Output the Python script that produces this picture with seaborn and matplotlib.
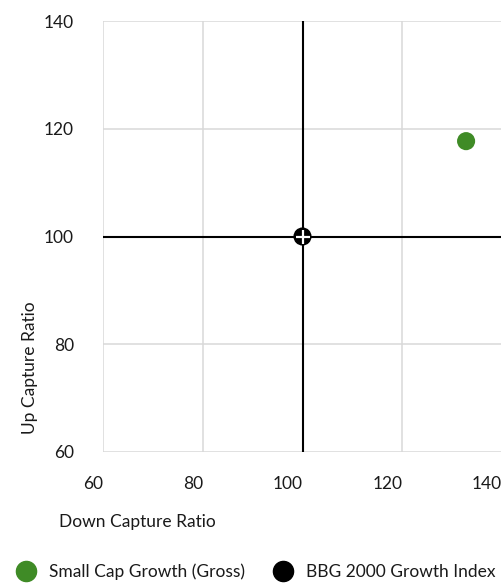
import matplotlib
matplotlib.use("Agg")
import matplotlib.pyplot as plt
from matplotlib.lines import Line2D
import pandas as pd
import seaborn as sns

# values
names = ["Small Cap Growth (Gross)", "BBG 2000 Growth Index"]
down_capture = [132.8, 100.0]
up_capture = [117.7, 100.0]
colors = ["#3f8b26", "#000000"]

ticks = [60, 80, 100, 120, 140]

df = pd.DataFrame({"name": names, "down": down_capture, "up": up_capture})

sns.set_style("white")
plt.rcParams["font.family"] = ["Lato", "DejaVu Sans"]
grid_c = "#d9d9d9"
txt_c = "#1a1a1a"
fs = 12.5

fig = plt.figure(figsize=(5.02, 5.86), dpi=100)
ax = fig.add_axes([103 / 502, 1 - 452 / 586, 399 / 502, 431 / 586])

ax.set_xlim(60, 140)
ax.set_ylim(60, 140)
ax.set_xticks(ticks)
ax.set_yticks(ticks)
ax.set_xticklabels([str(t) for t in ticks], ha="right")
ax.set_yticklabels([str(t) for t in ticks])
ax.grid(True, color=grid_c, linewidth=1.1)
for s in ax.spines.values():
    s.set_visible(False)
ax.tick_params(axis="x", length=8, width=1.1, color=grid_c, pad=9,
               labelsize=fs, labelcolor=txt_c)
ax.tick_params(axis="y", length=11, width=1.1, color=grid_c, pad=10,
               labelsize=fs, labelcolor=txt_c)

# benchmark crosshair
ax.axvline(100, color="black", linewidth=1.5, zorder=3)
ax.axhline(100, color="black", linewidth=1.5, zorder=3)

sns.scatterplot(data=df, x="down", y="up", hue="name", palette=colors,
                s=170, edgecolor="none", legend=False, ax=ax, zorder=4,
                clip_on=False)
ax.plot([down_capture[1]], [up_capture[1]], marker="+", color="white",
        markersize=10, mew=1.6, linestyle="none", zorder=5)

ax.set_xlabel("")
ax.set_ylabel("")
fig.text(59 / 502, 1 - 522 / 586, "Down Capture Ratio", fontsize=fs,
         color=txt_c, ha="left", va="center")
fig.text(30 / 502, 1 - 368 / 586, "Up Capture Ratio", fontsize=fs,
         color=txt_c, rotation=90, ha="center", va="center")

handles = [Line2D([], [], marker="o", linestyle="none", color=c,
                  markersize=14.5) for c in colors]
fig.legend(handles, names, loc="center left",
           bbox_to_anchor=(-7 / 502, 1 - 572 / 586), ncol=2, frameon=False,
           fontsize=fs, handletextpad=0.35, columnspacing=1.15,
           labelcolor=txt_c)

fig.savefig("out.png", dpi=100)
